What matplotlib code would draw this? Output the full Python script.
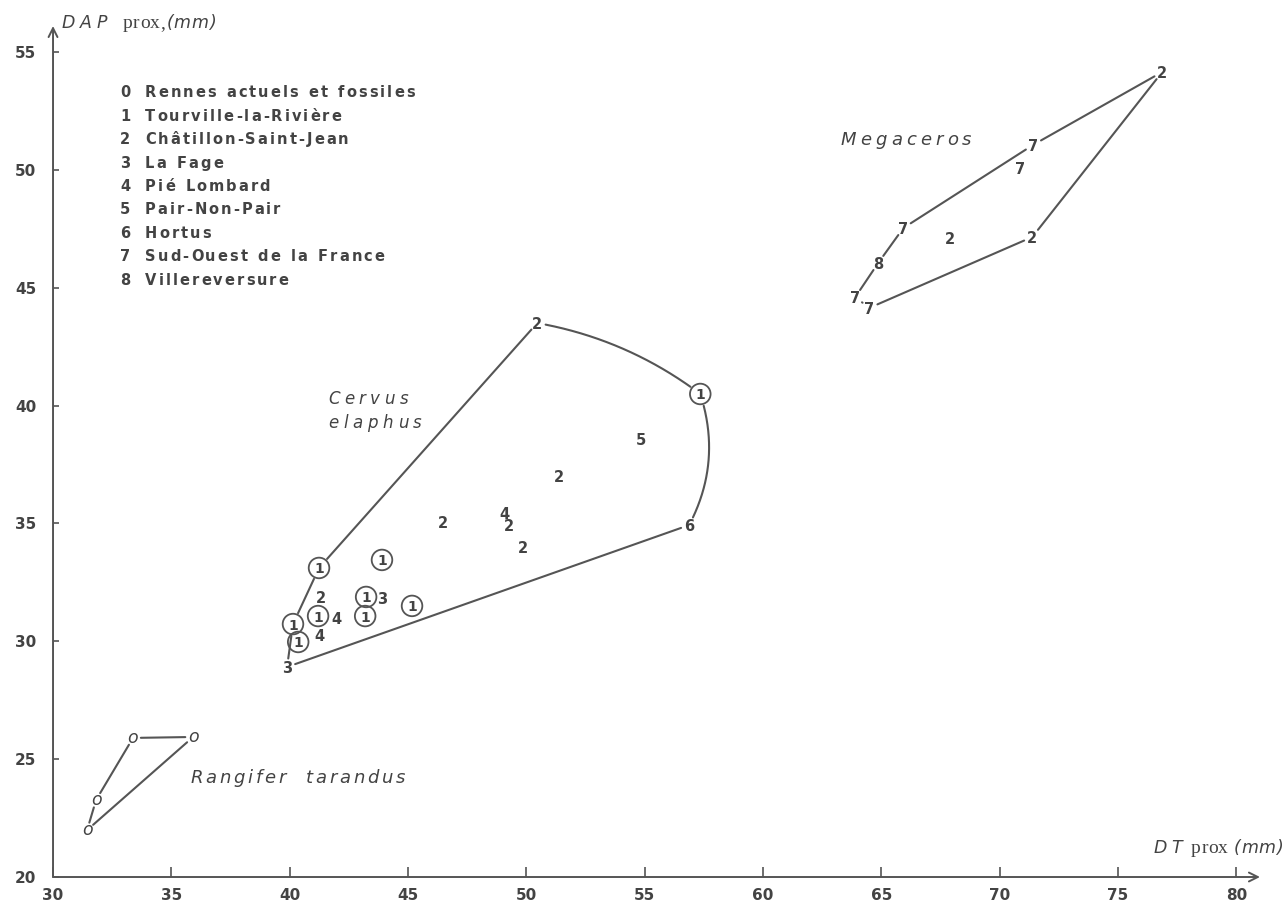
import matplotlib
matplotlib.use('Agg')
import matplotlib.pyplot as plt
import numpy as np
from matplotlib.font_manager import FontProperties
from matplotlib.textpath import TextToPath

# Site codes used as plotting symbols
site_names = ['Rennes actuels et fossiles', 'Tourville-la-Rivière', 'Châtillon-Saint-Jean',
              'La Fage', 'Pié Lombard', 'Pair-Non-Pair', 'Hortus',
              'Sud-Ouest de la France', 'Villereversure']
site_codes = ['0', '1', '2', '3', '4', '5', '6', '7', '8']

# Rangifer tarandus (all site 0)
rangifer_x = [31.44, 31.82, 33.38, 35.92]
rangifer_y = [21.99, 23.27, 25.90, 25.94]

# Cervus elaphus
cervus_site = ['3', '1', '1', '1', '2', '1', '4', '4', '1', '1', '3',
               '1', '1', '2', '2', '1', '5', '2', '4', '2', '2', '6']
cervus_x = [39.89, 40.36, 40.14, 41.24, 41.33, 41.20, 41.96, 41.24, 43.90, 43.23, 43.90,
            43.19, 45.17, 46.48, 50.46, 57.35, 54.85, 51.39, 49.06, 49.27, 49.86, 56.88]
cervus_y = [28.91, 29.97, 30.73, 33.11, 31.88, 31.07, 30.99, 30.27, 33.45, 31.88, 31.84,
            31.07, 31.50, 35.06, 43.50, 40.49, 38.58, 37.01, 35.44, 34.93, 34.00, 34.93]

# Megaceros
mega_site = ['7', '7', '8', '7', '2', '2', '7', '7', '2']
mega_x = [63.90, 64.49, 64.87, 65.93, 67.91, 71.38, 70.87, 71.42, 76.87]
mega_y = [44.60, 44.14, 46.05, 47.53, 47.11, 47.15, 50.08, 51.06, 54.15]

# envelope edges: (from, to, bend)
rangifer_hull = [(0, 1, 0), (1, 2, 0), (2, 3, 0), (3, 0, 0)]
cervus_hull = [(0, 2, 0), (2, 3, 0), (3, 14, 0), (14, 15, 0.12), (15, 21, 0.21), (21, 0, 0)]
mega_hull = [(0, 2, 0), (2, 3, 0), (3, 7, 0), (7, 8, 0), (8, 5, 0), (5, 1, 0), (1, 0, 0)]

INK = '#434343'
LINE = '#555555'

_t2p = TextToPath()


def tracked(ax, x, y, s, fp, track, start=0.0, space=None, dy=0.0):
    """Letter-spaced text, left aligned on its baseline; returns end offset in points."""
    off = start
    if space is None:
        space = 0.35 * fp.get_size_in_points()
    for ch in s:
        if ch == ' ':
            off += space
            continue
        ax.annotate(ch, (x, y), xytext=(off, dy), textcoords='offset points',
                    fontproperties=fp, color=INK, ha='left', va='baseline',
                    annotation_clip=False)
        w = _t2p.get_text_width_height_descent(ch, fp, ismath=False)[0]
        off += w + track
    return off - track


def outline(ax, xs, ys, edges, gaps):
    for i, j, bend in edges:
        p0 = np.array([xs[i], ys[i]])
        p1 = np.array([xs[j], ys[j]])
        d = p1 - p0
        ctrl = (p0 + p1) / 2 + bend * np.array([-d[1], d[0]])
        t = np.linspace(0, 1, 300)[:, None]
        pts = (1 - t) ** 2 * p0 + 2 * (1 - t) * t * ctrl + t ** 2 * p1
        keep = (np.hypot(*(pts - p0).T) > gaps[i]) & (np.hypot(*(pts - p1).T) > gaps[j])
        ax.plot(pts[keep, 0], pts[keep, 1], color=LINE, lw=1.5, solid_capstyle='round')


fig = plt.figure(figsize=(12.87, 9.06), dpi=100)
ax = fig.add_axes([0.0412, 0.032, 0.9378, 0.9393])
ax.set_xlim(30, 81)
ax.set_ylim(20, 56.1)
for sp in ax.spines.values():
    sp.set_visible(False)

arrow = dict(arrowstyle='->', lw=1.4, color=LINE, shrinkA=0, shrinkB=0, mutation_scale=16)
ax.annotate('', xy=(1, 0), xytext=(0, 0), xycoords='axes fraction', arrowprops=arrow)
ax.annotate('', xy=(0, 1), xytext=(0, 0), xycoords='axes fraction', arrowprops=arrow)

ax.set_xticks(range(30, 81, 5))
ax.set_yticks(range(20, 56, 5))
ax.tick_params(axis='x', direction='in', length=7, width=1.2, color=LINE, pad=8,
               labelsize=11, labelcolor=INK)
ax.tick_params(axis='y', direction='in', length=4, width=1.2, color=LINE, pad=12,
               labelsize=11, labelcolor=INK)
for lab in ax.get_xticklabels() + ax.get_yticklabels():
    lab.set_fontweight('bold')

# envelopes
outline(ax, rangifer_x, rangifer_y, rangifer_hull, [0.33] * len(rangifer_x))
outline(ax, cervus_x, cervus_y, cervus_hull,
        [0.5 if s == '1' else 0.36 for s in cervus_site])
outline(ax, mega_x, mega_y, mega_hull, [0.36] * len(mega_x))

# point symbols
for x, y in zip(rangifer_x, rangifer_y):
    ax.text(x, y, 'o', fontsize=12.5, style='italic', color=INK, ha='center', va='center')
for s, x, y in zip(cervus_site + mega_site, cervus_x + mega_x, cervus_y + mega_y):
    ax.text(x, y, s, fontsize=10 if s == '1' else 10.5, fontweight='bold', color=INK,
            ha='center', va='center_baseline')
circ_x = [x for s, x in zip(cervus_site, cervus_x) if s == '1']
circ_y = [y for s, y in zip(cervus_site, cervus_y) if s == '1']
ax.scatter(circ_x, circ_y, s=220, facecolors='none', edgecolors=LINE, linewidths=1.3)

# site key
key_fp = FontProperties(family='DejaVu Sans', size=10.5, weight='bold')
for k, (code, name) in enumerate(zip(site_codes, site_names)):
    yk = 53.07 - k * 0.993
    tracked(ax, 32.83, yk, code, key_fp, 0)
    tracked(ax, 33.89, yk, name, key_fp, 1.5, space=6)

# species names
sp_fp = FontProperties(family='DejaVu Sans', size=13, style='italic')
tracked(ax, 63.26, 51.06, 'Megaceros', sp_fp, 3.0)
cer_fp = FontProperties(family='DejaVu Sans', size=12, style='italic')
tracked(ax, 41.62, 40.08, 'Cervus', cer_fp, 3.2)
tracked(ax, 41.62, 39.03, 'elaphus', cer_fp, 3.4)
tracked(ax, 35.79, 23.99, 'Rangifer tarandus', sp_fp, 2.0, space=12)

# axis titles
it_fp = FontProperties(family='DejaVu Sans', size=12.5, style='italic')
serif_fp = FontProperties(family='Liberation Serif', size=14)
end = tracked(ax, 30.38, 56.02, 'DAP', it_fp, 3.5)
end = tracked(ax, 30.38, 56.02, 'prox,', serif_fp, 0.3, start=end + 11)
tracked(ax, 30.38, 56.02, '(mm)', it_fp, 0.5, start=end + 1)

end = tracked(ax, 76.49, 21.02, 'DT', it_fp, 3.0)
end = tracked(ax, 76.49, 21.02, 'prox', serif_fp, 0.3, start=end + 7)
tracked(ax, 76.49, 21.02, '(mm)', it_fp, 0.5, start=end + 4)

fig.savefig('out.png', dpi=100, facecolor='white')
